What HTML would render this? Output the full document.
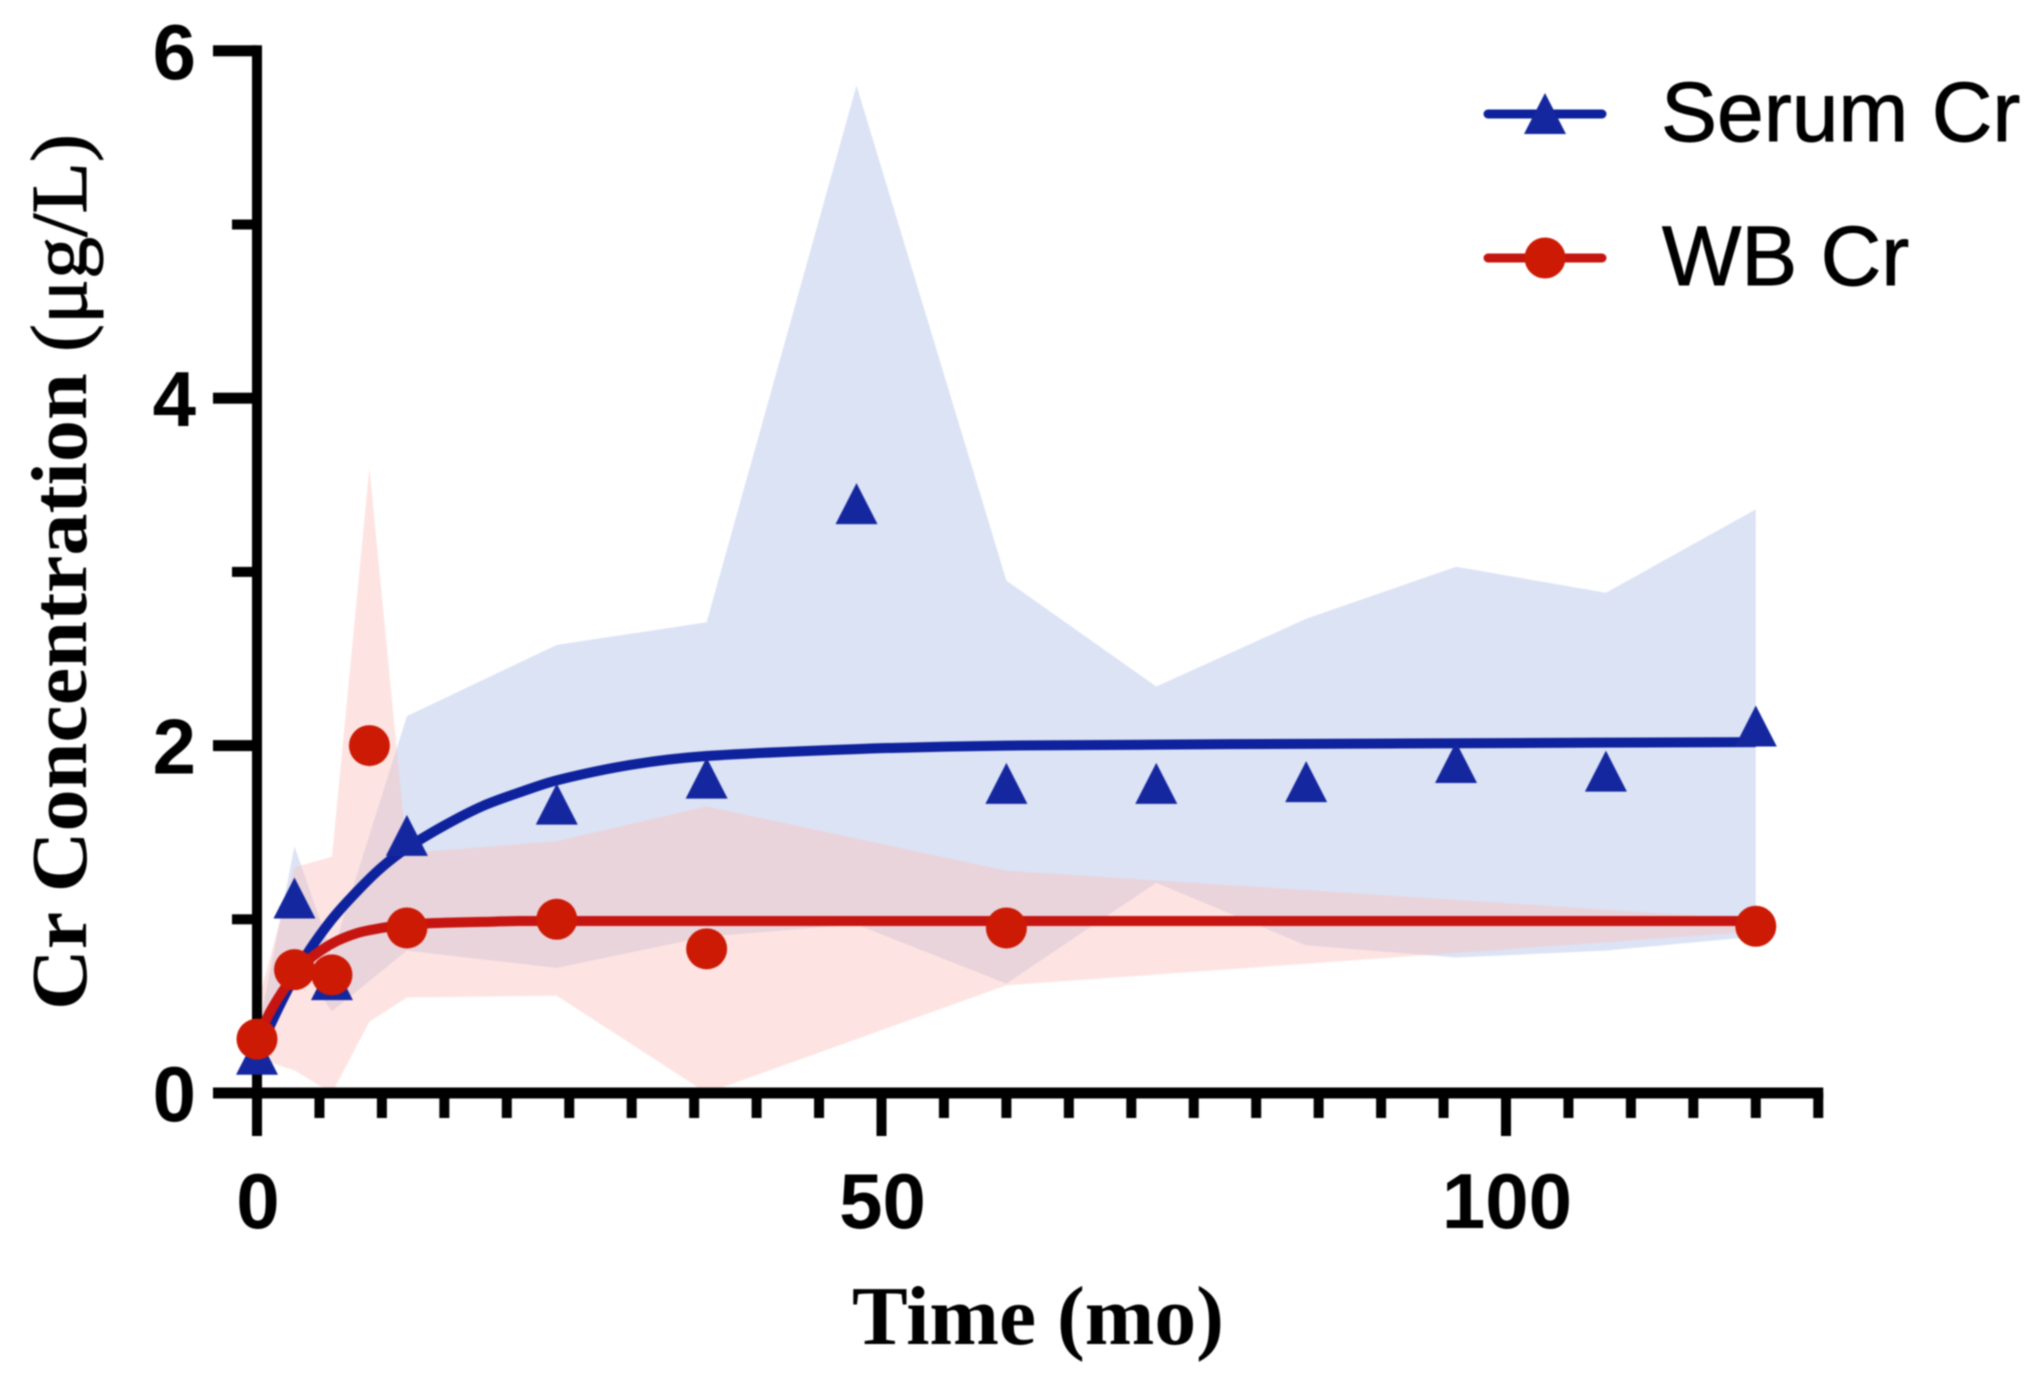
<!DOCTYPE html>
<html lang="en">
<head>
<meta charset="utf-8">
<title>Cr Concentration over Time</title>
<style>
html,body{margin:0;padding:0;background:#fff;width:2040px;height:1400px;overflow:hidden}
svg{display:block;filter:blur(0.8px)}
.tick{font-family:"Liberation Sans",sans-serif;font-weight:700;font-size:78px;fill:#000}
.title{font-family:"Liberation Serif",serif;font-weight:700;fill:#000}
.legend{font-family:"Liberation Sans",sans-serif;font-size:84px;fill:#000;stroke:#000;stroke-width:0.9px}
</style>
</head>
<body>
<svg id="chart" xmlns="http://www.w3.org/2000/svg" width="2040" height="1400" viewBox="0 0 2040 1400">
  <rect width="2040" height="1400" fill="#fff"/>
  <g id="bands"></g>
  <g id="axes"></g>
  <g id="marks"></g>
  <text class="title" transform="translate(86,1010) rotate(-90)" font-size="79" textLength="876" lengthAdjust="spacingAndGlyphs">Cr Concentration <tspan font-weight="400" stroke="#000" stroke-width="1">(μg/L)</tspan></text>
  <text class="title" x="852" y="1344" font-size="84" textLength="372" lengthAdjust="spacingAndGlyphs">Time (mo)</text>
  <g id="legend">
    <text class="legend" x="1661" y="141">Serum Cr</text>
    <text class="legend" x="1662" y="285">WB Cr</text>
  </g>
</svg>
<script>
const serumTimes = [0, 3, 6, 12, 24, 36, 48, 60, 72, 84, 96, 108, 120];
const serumValues = [0.22, 1.12, 0.65, 1.48, 1.66, 1.81, 3.39, 1.78, 1.78, 1.79, 1.9, 1.85, 2.11];
const serumUpper = [0.32, 1.42, 0.8, 2.17, 2.58, 2.71, 5.8, 2.95, 2.34, 2.73, 3.03, 2.88, 3.36];
const serumLower = [0.12, 0.78, 0.47, 0.82, 0.72, 0.9, 0.97, 0.63, 1.21, 0.85, 0.78, 0.82, 0.9];

const wbTimes = [0, 3, 6, 9, 12, 24, 36, 60, 120];
const wbValues = [0.31, 0.71, 0.68, 2.0, 0.95, 1.0, 0.83, 0.95, 0.96];
const wbUpper = [0.5, 1.3, 1.36, 3.6, 1.38, 1.45, 1.65, 1.28, 1.0];
const wbLower = [0.2, 0.13, 0.0, 0.41, 0.55, 0.56, 0.0, 0.62, 0.93];

const fitTimes = [0, 1, 2, 3, 4, 6, 8, 10, 12, 15, 18, 21, 24, 30, 36, 48, 60, 84, 120];
const serumFit = [0.22, 0.38, 0.53, 0.67, 0.8, 1.0, 1.16, 1.3, 1.41, 1.54, 1.65, 1.73, 1.8, 1.89, 1.94, 1.98, 2.0, 2.01, 2.02];
const wbFit = [0.31, 0.46, 0.58, 0.68, 0.76, 0.86, 0.92, 0.95, 0.97, 0.98, 0.985, 0.99, 0.99, 0.99, 0.99, 0.99, 0.99, 0.99, 0.99];

const yMajorTicks = [0, 2, 4, 6];
const yMinorTicks = [1, 3, 5];
const xMajorTicks = [0, 50, 100];
const xMinorTicks = [5, 10, 15, 20, 25, 30, 35, 40, 45, 55, 60, 65, 70, 75, 80, 85, 90, 95, 105, 110, 115, 120, 125];

const legendSerumY = 114;
const legendWbY = 258;

const NS = 'http://www.w3.org/2000/svg';
const BLUE = '#0d229c';
const BLUE_MARK = '#14279f';
const RED = '#c61510';
const RED_MARK = '#cc1a05';

function xPos(t) { return 257 + t * 12.49; }
function yPos(v) { return 1093 - v * 173.7; }

function make(tag, parent, attrs) {
  const node = document.createElementNS(NS, tag);
  for (const k in attrs) node.setAttribute(k, attrs[k]);
  parent.appendChild(node);
  return node;
}

function bandPoints(times, upper, lower) {
  const top = times.map((t, i) => xPos(t) + ',' + yPos(upper[i]));
  const bottom = times.map((t, i) => xPos(t) + ',' + yPos(lower[i])).reverse();
  return top.concat(bottom).join(' ');
}

function smoothPath(times, values) {
  const p = times.map((t, i) => [xPos(t), yPos(values[i])]);
  let d = 'M' + p[0][0] + ' ' + p[0][1];
  for (let i = 0; i < p.length - 1; i++) {
    const a = p[Math.max(i - 1, 0)], b = p[i], c = p[i + 1], e = p[Math.min(i + 2, p.length - 1)];
    const seg = c[0] - b[0];
    const s1 = (c[1] - a[1]) / (c[0] - a[0]);
    const s2 = (e[1] - b[1]) / (e[0] - b[0]);
    d += ' C' + (b[0] + seg / 3) + ' ' + (b[1] + s1 * seg / 3) + ' ' + (c[0] - seg / 3) + ' ' + (c[1] - s2 * seg / 3) + ' ' + c[0] + ' ' + c[1];
  }
  return d;
}

function trianglePoints(cx, cy) {
  return cx + ',' + (cy - 21) + ' ' + (cx + 21) + ',' + (cy + 20) + ' ' + (cx - 21) + ',' + (cy + 20);
}

const bands = document.getElementById('bands');
const axes = document.getElementById('axes');
const marks = document.getElementById('marks');
const legend = document.getElementById('legend');

const serumBand = make('polygon', bands, { points: bandPoints(serumTimes, serumUpper, serumLower), fill: '#dce3f5' });


const wbBand = make('polygon', bands, { points: bandPoints(wbTimes, wbUpper, wbLower), fill: 'rgb(250,190,185)', 'fill-opacity': 0.42 });



const yAxisLine = make('rect', axes, { x: xPos(0) - 5, y: yPos(6) - 5.5, width: 10, height: yPos(0) - yPos(6) + 11, fill: '#000' });


const xAxisLine = make('rect', axes, { x: 213, y: yPos(0) - 5.5, width: xPos(125) - 213 + 5, height: 11, fill: '#000' });



yMajorTicks.forEach(v => {
  const tick = make('rect', axes, { x: 213, y: yPos(v) - 5.5, width: 44, height: 11, fill: '#000' });
  
  
  const label = make('text', axes, { class: 'tick', x: 196, y: yPos(v) + 28, 'text-anchor': 'end' });
  
  
  label.textContent = String(v);
});
yMinorTicks.forEach(v => {
  const tick = make('rect', axes, { x: 232, y: yPos(v) - 5, width: 25, height: 10, fill: '#000' });
  
  
});
xMajorTicks.forEach(t => {
  const tick = make('rect', axes, { x: xPos(t) - 5, y: yPos(0), width: 10, height: 43, fill: '#000' });
  
  
  const label = make('text', axes, { class: 'tick', x: xPos(t) + 1, y: 1228, 'text-anchor': 'middle' });
  
  
  label.textContent = String(t);
});
xMinorTicks.forEach(t => {
  const tick = make('rect', axes, { x: xPos(t) - 5, y: yPos(0), width: 10, height: 25, fill: '#000' });
  
  
});

const serumCurve = make('path', marks, { d: smoothPath(fitTimes, serumFit), fill: 'none', stroke: BLUE, 'stroke-width': 10 });


serumTimes.forEach((t, i) => {
  const tri = make('polygon', marks, { points: trianglePoints(xPos(t), yPos(serumValues[i])), fill: BLUE_MARK });
  
  
});
const wbCurve = make('path', marks, { d: smoothPath(fitTimes, wbFit), fill: 'none', stroke: RED, 'stroke-width': 10 });


wbTimes.forEach((t, i) => {
  const dot = make('circle', marks, { cx: xPos(t), cy: yPos(wbValues[i]), r: 20.5, fill: RED_MARK });
  
  
});

const legendLineSerum = make('line', legend, { x1: 1488, x2: 1602, y1: legendSerumY, y2: legendSerumY, stroke: BLUE, 'stroke-width': 9, 'stroke-linecap': 'round' });


const legendTri = make('polygon', legend, { points: trianglePoints(1545, legendSerumY), fill: BLUE_MARK });


const legendLineWb = make('line', legend, { x1: 1488, x2: 1602, y1: legendWbY, y2: legendWbY, stroke: RED, 'stroke-width': 9, 'stroke-linecap': 'round' });


const legendDot = make('circle', legend, { cx: 1545, cy: legendWbY, r: 20.5, fill: RED_MARK });


</script>
</body>
</html>
